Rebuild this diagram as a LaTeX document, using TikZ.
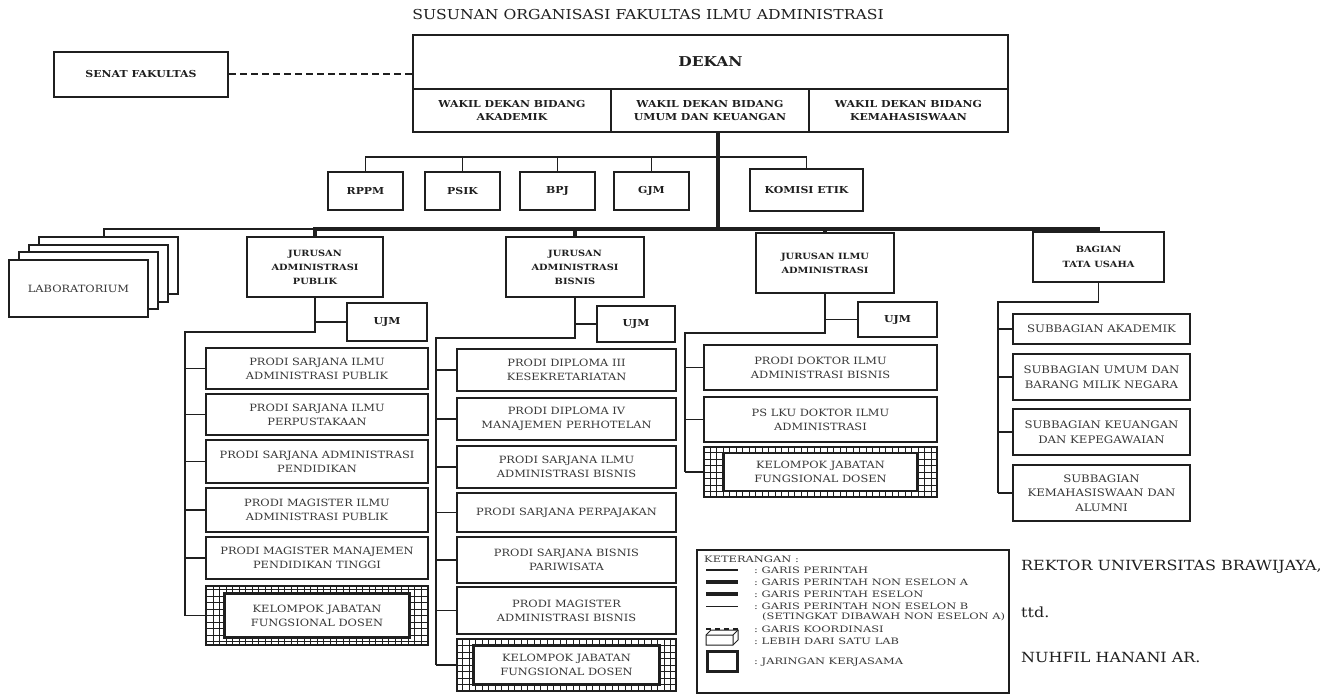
\documentclass[tikz,border=0pt]{standalone}
\usepackage{fontspec}
\setmainfont{DejaVu Serif}[FakeStretch=1.14]
\newfontfamily\legfont{DejaVu Serif}[FakeStretch=1.3]
\newcommand{\setfs}[2]{\fontsize{#1}{#2}\selectfont}
\definecolor{ink}{gray}{0.12}
\definecolor{softink}{gray}{0.22}
\tikzset{
  sz/.style 2 args={minimum width=#1pt, minimum height=#2pt},
  box/.style={draw=ink, line width=2.3pt, fill=white, inner sep=0pt, align=center, text=ink},
  bsm/.style={font=\bfseries\setfs{9.6}{12.5}},
  jur/.style={font=\bfseries\setfs{8.6}{14}},
  reg/.style={font=\setfs{10}{14}, text=softink},
  sub/.style={font=\setfs{10.3}{14.5}, text=softink},
  conn/.style={draw=ink, line width=1.1pt},
  bus/.style={draw=ink, line width=3.6pt, line join=miter},
  drop/.style={draw=ink, line width=3.2pt},
  coord/.style={draw=ink, line width=2pt, dash pattern=on 7pt off 4pt},
  kjout/.style={draw=ink, line width=2.3pt, fill=white,
    path picture={\draw[ink, line width=0.8pt]
      (path picture bounding box.south west) grid[step=6.5pt]
      (path picture bounding box.north east);}},
  legtxt/.style={font=\legfont\setfs{8.8}{10}, text=softink, inner sep=0pt, anchor=west},
  sign/.style={font=\setfs{14}{16}, text=ink, inner sep=0pt, anchor=west}
}
\begin{document}
\begin{tikzpicture}[x=1pt,y=-1pt]
\useasboundingbox (0,0) rectangle (1343,698);
\fill[white] (0,0) rectangle (1343,698);

% heading
\node[font=\setfs{13.7}{16}, text=ink] (title) at (648,15) {SUSUNAN ORGANISASI FAKULTAS ILMU ADMINISTRASI};

% dean and vice deans
\node[box, sz={595}{54}, font=\bfseries\setfs{13.6}{16}] (dekan) at (710.5,62) {DEKAN};
\node[box, sz={198}{43}, bsm] (wk1) at (512,110.5) {WAKIL DEKAN BIDANG\\AKADEMIK};
\node[box, sz={198}{43}, bsm] (wk2) at (710,110.5) {WAKIL DEKAN BIDANG\\UMUM DAN KEUANGAN};
\node[box, sz={199}{43}, bsm] (wk3) at (908.5,110.5) {WAKIL DEKAN BIDANG\\KEMAHASISWAAN};

% faculty senate
\node[box, sz={174}{45}, bsm] (senat) at (141,74.5) {SENAT FAKULTAS};
\draw[coord] (senat.east) -- (senat.east -| dekan.west);

% units under the dean
\node[box, sz={75}{38}, bsm] (rppm) at (365.5,191) {RPPM};
\node[box, sz={75}{38}, bsm] (psik) at (462.5,191) {PSIK};
\node[box, sz={75}{38}, bsm] (bpj) at (557.5,191) {BPJ};
\node[box, sz={75}{38}, bsm] (gjm) at (651.5,191) {GJM};
\node[box, sz={113}{42}, bsm] (komisi) at (806.5,190) {KOMISI ETIK};

\coordinate (tb) at (0,157);
\coordinate (hub) at (718,229);
\coordinate (bar) at (0,229);
\coordinate (labx) at (104,0);
\draw[conn] (rppm.north) -- (rppm.north |- tb) -- (komisi.north |- tb) -- (komisi.north);
\foreach \n in {psik,bpj,gjm} \draw[conn] (\n.north) -- (\n.north |- tb);

% laboratories (stacked)
\node[box, line width=2pt, sz={139}{57}] (lab4) at (108.5,265.3) {};
\node[box, line width=2pt, sz={139}{57}] (lab3) at (98.5,273) {};
\node[box, line width=2pt, sz={139}{57}] (lab2) at (88.5,280.8) {};
\node[box, line width=2pt, sz={139}{57}, reg] (lab) at (78.5,288.5) {LABORATORIUM};

% departments and administration
\node[box, sz={136}{60}, jur] (jap) at (315,267) {JURUSAN\\ADMINISTRASI\\PUBLIK};
\node[box, sz={138}{60}, jur] (jab) at (575,267) {JURUSAN\\ADMINISTRASI\\BISNIS};
\node[box, sz={138}{60}, jur] (jia) at (825,263) {JURUSAN ILMU\\ADMINISTRASI};
\node[box, sz={131}{50}, jur, font=\bfseries\setfs{8.6}{15.5}] (btu) at (1098.5,257) {BAGIAN\\TATA USAHA};

% command lines from the dean
\draw[bus] (wk2.south -| hub) -- (hub);
\draw[conn] (lab4.north -| labx) -- (labx |- bar) -- (jap.north |- bar);
\draw[bus] (jap.north) |- (btu.north |- bar) -- (btu.north);
\foreach \n in {jab,jia} \draw[drop] (\n.north) -- (\n.north |- bar);

% ---- Jurusan Administrasi Publik
\node[box, sz={80}{38}, bsm] (ujmA) at (387,322) {UJM};
\node[box, sz={222}{41}, reg] (pa1) at (317,368.5) {PRODI SARJANA ILMU\\ADMINISTRASI PUBLIK};
\node[box, sz={222}{41}, reg] (pa2) at (317,414.5) {PRODI SARJANA ILMU\\PERPUSTAKAAN};
\node[box, sz={222}{43}, reg] (pa3) at (317,461.5) {PRODI SARJANA ADMINISTRASI\\PENDIDIKAN};
\node[box, sz={222}{44}, reg] (pa4) at (317,510) {PRODI MAGISTER ILMU\\ADMINISTRASI PUBLIK};
\node[box, sz={222}{42}, reg] (pa5) at (317,558) {PRODI MAGISTER MANAJEMEN\\PENDIDIKAN TINGGI};
\node[kjout, sz={222}{59}] (kjA) at (317,615.5) {};
\node[box, sz={185}{44}, reg] (kjAi) at (kjA) {KELOMPOK JABATAN\\FUNGSIONAL DOSEN};
\coordinate (sA) at (185,332);
\draw[conn] (jap.south) |- (sA) -- (sA |- kjA.west);
\draw[conn] (ujmA.west) -- (ujmA.west -| jap.south);
\foreach \n in {pa1,pa2,pa3,pa4,pa5,kjA} \draw[conn] (\n.west) -- (\n.west -| sA);

% ---- Jurusan Administrasi Bisnis
\node[box, sz={78}{36}, bsm] (ujmB) at (636,324) {UJM};
\node[box, sz={219}{42}, reg] (pb1) at (566.5,370) {PRODI DIPLOMA III\\KESEKRETARIATAN};
\node[box, sz={219}{42}, reg] (pb2) at (566.5,419) {PRODI DIPLOMA IV\\MANAJEMEN PERHOTELAN};
\node[box, sz={219}{42}, reg] (pb3) at (566.5,467) {PRODI SARJANA ILMU\\ADMINISTRASI BISNIS};
\node[box, sz={219}{39}, reg] (pb4) at (566.5,512.5) {PRODI SARJANA PERPAJAKAN};
\node[box, sz={219}{46}, reg] (pb5) at (566.5,560) {PRODI SARJANA BISNIS\\PARIWISATA};
\node[box, sz={219}{47}, reg] (pb6) at (566.5,610.5) {PRODI MAGISTER\\ADMINISTRASI BISNIS};
\node[kjout, sz={219}{52}] (kjB) at (566.5,665) {};
\node[box, sz={186}{39}, reg] (kjBi) at (kjB) {KELOMPOK JABATAN\\FUNGSIONAL DOSEN};
\coordinate (sB) at (436,338);
\draw[conn] (jab.south) |- (sB) -- (sB |- kjB.west);
\draw[conn] (ujmB.west) -- (ujmB.west -| jab.south);
\foreach \n in {pb1,pb2,pb3,pb4,pb5,pb6,kjB} \draw[conn] (\n.west) -- (\n.west -| sB);

% ---- Jurusan Ilmu Administrasi
\node[box, sz={79}{35}, bsm] (ujmC) at (897.5,319.5) {UJM};
\node[box, sz={233}{45}, reg] (pc1) at (820.5,367.5) {PRODI DOKTOR ILMU\\ADMINISTRASI BISNIS};
\node[box, sz={233}{45}, reg] (pc2) at (820.5,419.5) {PS LKU DOKTOR ILMU\\ADMINISTRASI};
\node[kjout, sz={233}{50}] (kjC) at (820.5,472) {};
\node[box, sz={194}{38}, reg] (kjCi) at (kjC) {KELOMPOK JABATAN\\FUNGSIONAL DOSEN};
\coordinate (sC) at (685,333);
\draw[conn] (jia.south) |- (sC) -- (sC |- kjC.west);
\draw[conn] (ujmC.west) -- (ujmC.west -| jia.south);
\foreach \n in {pc1,pc2,kjC} \draw[conn] (\n.west) -- (\n.west -| sC);

% ---- Bagian Tata Usaha
\node[box, sz={177}{30}, sub] (s1) at (1101.5,329) {SUBBAGIAN AKADEMIK};
\node[box, sz={177}{46}, sub] (s2) at (1101.5,377) {SUBBAGIAN UMUM DAN\\BARANG MILIK NEGARA};
\node[box, sz={177}{46}, sub] (s3) at (1101.5,432) {SUBBAGIAN KEUANGAN\\DAN KEPEGAWAIAN};
\node[box, sz={177}{56}, sub] (s4) at (1101.5,493) {SUBBAGIAN\\KEMAHASISWAAN DAN\\ALUMNI};
\coordinate (sD) at (998,302);
\draw[conn] (btu.south) |- (sD) -- (sD |- s4.west);
\foreach \n in {s1,s2,s3,s4} \draw[conn] (\n.west) -- (\n.west -| sD);

% ---- legend
\node[draw=ink, line width=1.2pt, fill=white, sz={312}{143}] (leg) at (853,621.5) {};
\node[legtxt] (lk) at (704,559) {KETERANGAN :};
\node[legtxt] (l1) at (754,570) {:~GARIS PERINTAH};
\node[legtxt] (l2) at (754,582) {:~GARIS PERINTAH NON ESELON A};
\node[legtxt] (l3) at (754,594) {:~GARIS PERINTAH ESELON};
\node[legtxt] (l4) at (754,606) {:~GARIS PERINTAH NON ESELON B};
\node[legtxt] (l5) at (762,617) {(SETINGKAT DIBAWAH NON ESELON A)};
\node[legtxt] (l6) at (754,629) {:~GARIS KOORDINASI};
\node[legtxt] (l7) at (754,641) {:~LEBIH DARI SATU LAB};
\node[legtxt] (l8) at (754,662) {:~JARINGAN KERJASAMA};
\draw[ink, line width=1.6pt] (706,570) -- (738,570);
\draw[ink, line width=4.2pt] (706,582) -- (738,582);
\draw[ink, line width=3.2pt] (706,594) -- (738,594);
\draw[ink, line width=0.8pt] (706,606) -- (738,606);
\draw[ink, line width=1.8pt, dash pattern=on 5pt off 4pt] (706,629) -- (738,629);
\draw[ink, line width=1pt, fill=white] (706,635) -- (711,630) -- (738,630) -- (738,640) -- (733,645) -- (706,645) -- cycle;
\draw[ink, line width=1pt] (706,635) -- (733,635) -- (738,630) (733,635) -- (733,645);
\draw[ink, line width=3pt] (707,651) rectangle (737,671);

% ---- signature
\node[sign] (rektor) at (1021,567) {REKTOR UNIVERSITAS BRAWIJAYA,};
\node[sign] (ttd) at (1021,612) {ttd.};
\node[sign] (nama) at (1021,657) {NUHFIL HANANI AR.};
\end{tikzpicture}
\end{document}
